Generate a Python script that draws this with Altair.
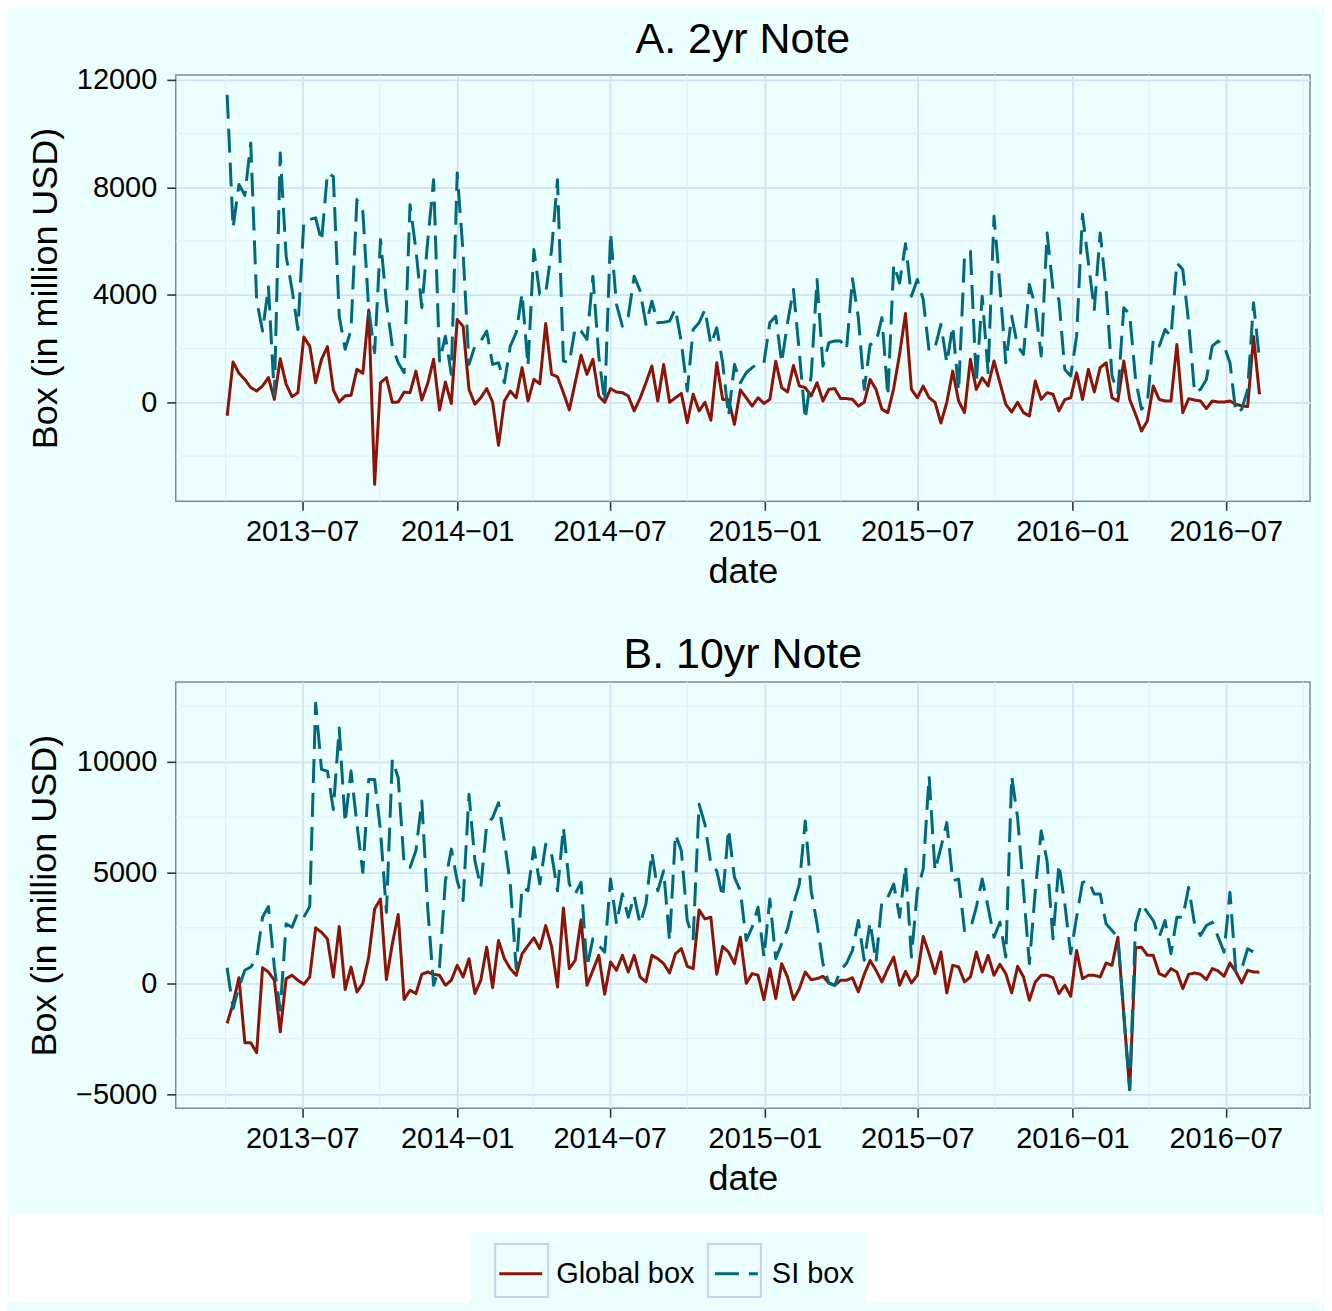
import altair as alt
import pandas as pd

FONT = "Liberation Sans"
BG = "#EBFFFF"
RED = "#8C1306"
TEAL = "#006A7C"
GRID_MAJOR = "#D3E0F4"
GRID_MINOR = "#E3EEF8"
BORDER = "#7D8A98"
KEY_BORDER = "#C4D2F0"

START = "2013-04-03"
SERIES = ["Global box", "SI box"]

global_2yr = [
    -500, 1500, 1080, 850, 550, 420, 610, 920, 110, 1620,
    670, 210, 360, 2430, 2090, 730, 1600, 2070, 460, 10,
    240, 260, 1230, 1080, 3430, -3050, 730, 920, 0, 10,
    380, 360, 1160, 90, 700, 1600, -285, 755, -50, 3080,
    2830, 480, -70, 170, 510, 10, -1600, 50, 420, 170,
    1290, 50, 850, 690, 2930, 1040, 950, 360, -285, 730,
    1750, 1040, 1600, 235, 0, 510, 380, 360, 235, -320,
    150, 730, 1350, 50, 1410, 0, 170, 330, -755, 300,
    -320, 0, -670, 1470, 110, 100, -820, 460, 170, -140,
    170, -40, 110, 1530, 545, 385, 1370, 610, 545, 235,
    730, 50, 485, 510, 140, 140, 110, -140, 0, 850,
    480, -260, -385, 520, 1800, 3300, 480, 170, 600, 170,
    0, -770, 0, 1160, 50, -385, 1600, 480, 915, 610,
    1535, 730, -75, -360, 0, -385, -510, 790, 110, 360,
    300, -320, 100, 170, 1100, 110, 1225, 385, 1290, 1470,
    170, 50, 1535, 110, -445, -1065, -690, 610, 110, 50,
    50, 2150, -385, 135, 85, 50, -235, 50, 10, 10,
    50, -75, -135, -160, 2450, 300,
]

si_2yr = [
    11440, 6490, 8100, 7700, 9650, 3800, 2650, 4300, 235, 9270,
    5435, 4200, 2710, 6735, 6800, 6860, 5990, 8530, 8400, 3200,
    1970, 2700, 7540, 7100, 3450, 1845, 6050, 3700, 2090, 1470,
    1100, 7350, 5680, 3520, 6000, 8280, 1535, 2460, 1040, 8530,
    5560, 1410, 2090, 2280, 2650, 1410, 1470, 730, 2090, 2590,
    4050, 1350, 5680, 4010, 4050, 5680, 8280, 1535, 1470, 2770,
    2650, 2340, 4690, 1720, 0, 6300, 3640, 2835, 3200, 4690,
    4150, 2900, 3760, 2960, 2980, 3020, 3480, 2220, 420, 2710,
    2960, 3450, 2150, 2770, 1470, -510, 1410, 730, 1100, 1290,
    1460, 1470, 2960, 3210, 1470, 2960, 4200, 1845, -630, 980,
    4570, 1350, 2220, 2280, 2280, 1970, 4600, 3150, 480, 2150,
    2220, 3150, 235, 5125, 4440, 5900, 3950, 4570, 3825, 1900,
    2030, 2900, 1470, 2835, 420, 5435, 5620, 730, 3950, 1100,
    6920, 4330, 1470, 3200, 2090, 1780, 4380, 3580, 1720, 6300,
    4200, 3825, 1225, 980, 2460, 7000, 5190, 3450, 6300, 4200,
    980, 360, 3520, 3270, 850, -260, 0, 2340, 2090, 2710,
    2460, 5190, 4940, 2960, 360, 480, 850, 2090, 2280, 2090,
    1470, -385, -260, 480, 3700, 1600,
]

global_10yr = [
    -1810, -910, 250, -2680, -2680, -3130, 700, 510, 135, -2190,
    210, 360, 135, -45, 285, 2500, 2300, 2000, 285, 2560,
    -285, 730, -390, 0, 1180, 3350, 3800, 165, 1780, 3100,
    -730, -315, -465, 405, 510, 405, 360, -90, 135, 810,
    285, 1110, -465, 135, 1630, -195, 1930, 1110, 660, 360,
    1330, 1700, 2050, 1560, 2600, 1660, -165, 3400, 660, 1030,
    2860, -90, 585, 1260, -495, 960, 585, 1260, 510, 1260,
    285, 60, 1260, 1110, 885, 465, 1330, 1560, 765, 660,
    3310, 2900, 2980, 405, 1660, 1410, 885, 2080, 0, 435,
    360, -735, 660, -690, 885, 285, -735, -240, 510, 165,
    210, 315, 15, -90, 135, 135, 250, -390, 400, 1030,
    585, 60, 660, 1180, -90, 540, 15, 360, 2110, 1330,
    435, 1410, -435, 810, 735, 60, 285, 1410, 510, 1260,
    360, 855, 435, -435, 765, 285, -765, 60, 360, 360,
    250, -465, -90, -585, 1480, 210, 360, 360, 285, 915,
    810, 2080, -1400, -4800, 1600, 1630, 1260, 1260, 435, 315,
    660, 510, -240, 405, 465, 405, 165, 660, 555, 315,
    915, 510, 15, 585, 510, 500,
]

si_10yr = [
    700, -1140, -165, 585, 735, 1110, 2980, 3460, 735, -1210,
    2680, 2530, 3200, 2980, 3460, 12635, 9640, 9570, 7840, 11510,
    7245, 9570, 7170, 5000, 9190, 9190, 6870, 3200, 10090, 9270,
    5375, 5225, 5975, 8220, 3400, -90, 735, 4625, 6050, 4625,
    3730, 8520, 5525, 4325, 7170, 7470, 8145, 6420, 4475, 660,
    4325, 4175, 6125, 4475, 6270, 5825, 4175, 7020, 4475, 4025,
    4550, 735, 2005, 1705, 1405, 4700, 2680, 4025, 2980, 3950,
    2680, 3580, 5900, 4175, 5075, 1930, 6720, 5975, 2830, 2005,
    8070, 7170, 5375, 5075, 3875, 6945, 4775, 4175, 1930, 2530,
    3430, 1185, 3800, 1110, 1780, 2455, 3580, 4475, 7320, 4175,
    2680, 885, 0, -90, 585, 900, 1480, 2830, 1035, 2755,
    960, 3730, 3875, 4475, 2980, 5300, 1185, 4175, 5150, 9340,
    5075, 6125, 7245, 4625, 4700, 2380, 2455, 3430, 4700, 3430,
    2080, 2755, 1185, 9340, 7470, 4175, 885, 4175, 6870, 5500,
    2005, 5375, 3580, 1330, 2980, 4550, 4625, 4025, 4025, 2680,
    2380, 2080, -1400, -4800, 2680, 3580, 3200, 2830, 2080, 2830,
    1330, 2980, 2980, 4325, 2680, 2155, 2605, 2755, 2080, 1405,
    4100, 510, 660, 1555, 1405, 1400,
]

# axis ticks
major_dates = [(2013, 7), (2014, 1), (2014, 7), (2015, 1), (2015, 7), (2016, 1), (2016, 7)]
minor_dates = ["2013-04-01", "2013-10-01", "2014-04-01", "2014-10-01",
               "2015-04-01", "2015-10-01", "2016-04-01", "2016-10-01"]
y_major_2yr = [0, 4000, 8000, 12000]
y_minor_2yr = [-2000, 2000, 6000, 10000]
y_major_10yr = [-5000, 0, 5000, 10000]
y_minor_10yr = [-2500, 2500, 7500, 12500]
y_domain_2yr = [-3680, 12180]
y_domain_10yr = [-5640, 13590]

X_TITLE = "date"
Y_TITLE = "Box (in million USD)"

W, H = 1136, 427
LEFT_EDGE = -167          # page edge relative to panel origin (decoration only)
RIGHT_EDGE = 1149


def long_frame(g, s):
    dates = list(pd.date_range(START, periods=len(g), freq="7D").strftime("%Y-%m-%d"))
    return pd.DataFrame({
        "date": dates * 2,
        "value": g + s,
        "series": [SERIES[0]] * len(g) + [SERIES[1]] * len(s),
    })


xscale = alt.Scale(
    type="utc",
    domain=[alt.DateTime(year=2013, month=2, date=1, utc=True),
            alt.DateTime(year=2016, month=10, date=9, utc=True)],
    nice=False,
)

legend = alt.Legend(
    title=None, orient="none", legendX=300, legendY=1155, direction="horizontal",
    columns=2, padding=22, columnPadding=13, labelOffset=12,
    symbolType="stroke", symbolSize=1850, symbolStrokeWidth=3,
    labelFontSize=29, labelFont=FONT, labelColor="black", labelLimit=0, zindex=1,
)

one_row = pd.DataFrame({"k": [0]})


def deco_rect(x1, x2, y1, y2, **kw):
    return alt.Chart(one_row).mark_rect(**kw).encode(
        x=alt.value(x1), x2=alt.value(x2), y=alt.value(y1), y2=alt.value(y2)
    )


def panel(g, s, title, ydomain, ymajor, yminor, bottom=False):
    df = long_frame(g, s)
    yscale = alt.Scale(domain=ydomain, nice=False, zero=False)
    xaxis = alt.Axis(
        values=[alt.DateTime(year=y, month=m, date=1, utc=True) for y, m in major_dates],
        format="%Y\u2212%m", grid=True, gridColor=GRID_MAJOR, gridWidth=1.7,
        domain=False, tickSize=9, tickWidth=1.6, tickColor="#333333",
        labelPadding=7, titlePadding=8, labelFontSize=29, titleFontSize=36,
        labelFont=FONT, titleFont=FONT, labelColor="black", titleColor="black",
        titleFontWeight="normal", labelFlush=False, labelOverlap=False,
    )
    yaxis = alt.Axis(
        values=ymajor, format="d", grid=True, gridColor=GRID_MAJOR, gridWidth=1.7,
        domain=False, tickSize=9, tickWidth=1.6, tickColor="#333333",
        labelPadding=10, titlePadding=12, labelFontSize=29, titleFontSize=36,
        labelFont=FONT, titleFont=FONT, labelColor="black", titleColor="black",
        titleFontWeight="normal", labelFlush=False, labelOverlap=False,
    )
    lines = alt.Chart(df).mark_line(strokeWidth=3, strokeJoin="round").encode(
        x=alt.X("date:T", scale=xscale, axis=xaxis, title=X_TITLE),
        y=alt.Y("value:Q", scale=yscale, axis=yaxis, title=Y_TITLE),
        color=alt.Color("series:N", scale=alt.Scale(domain=SERIES, range=[RED, TEAL]), legend=legend),
        strokeDash=alt.StrokeDash("series:N", scale=alt.Scale(domain=SERIES, range=[[1, 0], [24, 10]]), legend=legend),
    )
    minor_x = alt.Chart(pd.DataFrame({"d": minor_dates})).mark_rule(
        color=GRID_MINOR, strokeWidth=1
    ).encode(x=alt.X("d:T", scale=xscale, axis=xaxis, title=X_TITLE))
    minor_y = alt.Chart(pd.DataFrame({"v": yminor})).mark_rule(
        color=GRID_MINOR, strokeWidth=1
    ).encode(y=alt.Y("v:Q", scale=yscale, axis=yaxis, title=Y_TITLE))
    # background sliver at the page's left edge (keeps both panels aligned)
    layers = [deco_rect(LEFT_EDGE, LEFT_EDGE + 14, 0, H, color=BG)]
    if bottom:
        # white band under the figure, legend box and legend key frames
        layers.append(deco_rect(LEFT_EDGE, RIGHT_EDGE, 533, 622, color="white"))
        layers.append(deco_rect(295, 691, 551, 622, color=BG))
        layers.append(deco_rect(320, 373, 563, 616, fillOpacity=0, stroke=KEY_BORDER, strokeWidth=2))
        layers.append(deco_rect(533, 586, 563, 616, fillOpacity=0, stroke=KEY_BORDER, strokeWidth=2))
    layers += [minor_x, minor_y, lines]
    return alt.layer(*layers).properties(
        width=W, height=H,
        title=alt.TitleParams(text=title, fontSize=43, font=FONT, fontWeight="normal",
                              color="black", anchor="middle", offset=4, frame="group"),
    )


pa = panel(global_2yr, si_2yr, "A. 2yr Note", y_domain_2yr, y_major_2yr, y_minor_2yr)
pb = panel(global_10yr, si_10yr, "B. 10yr Note", y_domain_10yr, y_major_10yr, y_minor_10yr, bottom=True)

chart = alt.vconcat(pa, pb, spacing=43).properties(
    padding={"left": 0, "top": 9, "right": 0, "bottom": 0},
    background=BG,
).configure_view(fill=BG, stroke=BORDER, strokeWidth=1.5)

chart.save("out.html", embed_options={"renderer": "svg", "actions": False})
